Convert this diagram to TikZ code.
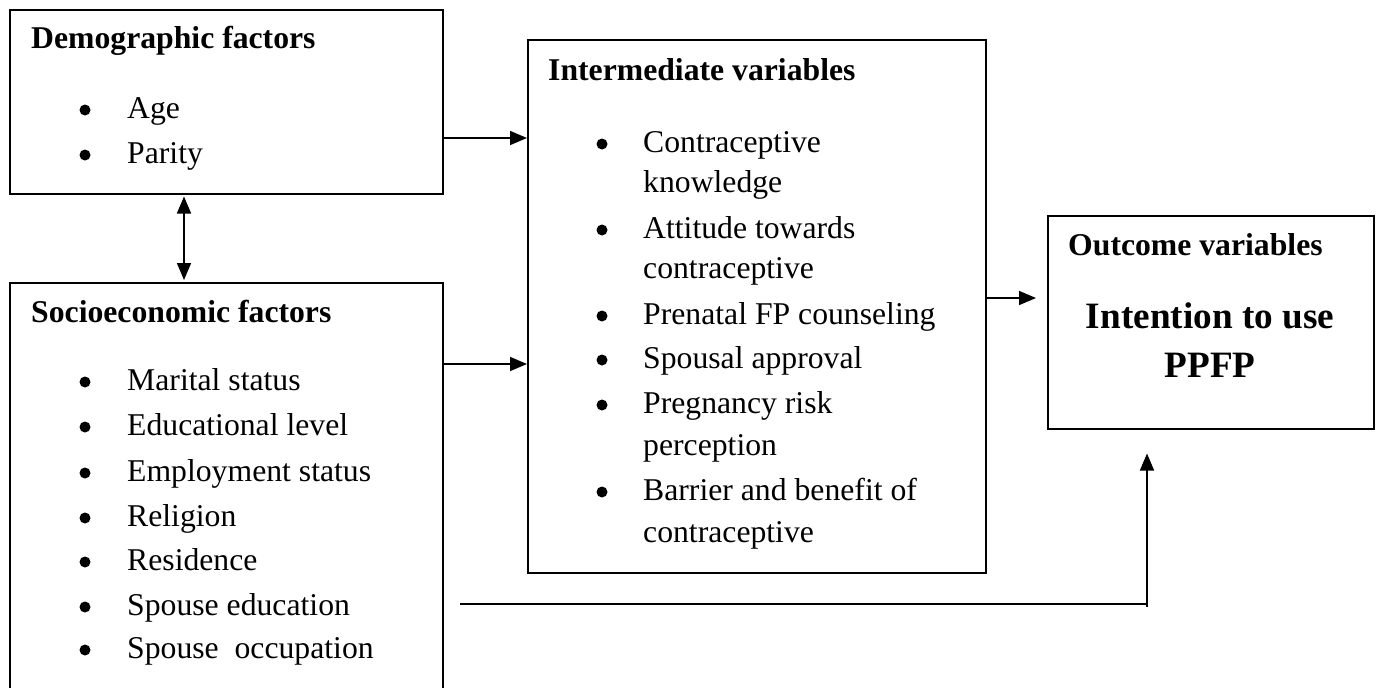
\documentclass[tikz,border=0pt]{standalone}
\usepackage{fontspec}
\setmainfont{Liberation Serif}
\usetikzlibrary{arrows.meta}
\begin{document}
\begin{tikzpicture}[x=1pt,y=-1pt,
  box/.style={draw,line width=1.5pt,rectangle,inner sep=0pt,anchor=north west},
  arr/.style={line width=1.6pt,-{Triangle[length=17pt,width=14pt]}},
  dbl/.style={line width=1.6pt,{Triangle[length=17pt,width=14pt]}-{Triangle[length=17pt,width=14pt]}},
  txt/.style={inner sep=0pt,anchor=base west,font=\fontsize{31.7}{38}\selectfont},
  ttl/.style={inner sep=0pt,anchor=base west,font=\fontsize{31.7}{38}\selectfont\bfseries},
  big/.style={inner sep=0pt,anchor=base,font=\fontsize{37.2}{44}\selectfont\bfseries},
  bul/.style={circle,fill=black,inner sep=0pt,minimum size=11pt,yshift=8pt}]
\clip (0,0) rectangle (1379,688);
\fill[white] (0,0) rectangle (1379,688);
% boxes
\node[box,minimum width=433pt,minimum height=184pt] (demo) at (9,9) {};
\node[box,minimum width=433pt,minimum height=418pt] (socio) at (9,282) {};
\node[box,minimum width=458pt,minimum height=533pt] (inter) at (527,39) {};
\node[box,minimum width=326pt,minimum height=213pt] (out) at (1047,215) {};
% demographic
\node[ttl] (t1) at (31,48) {Demographic factors};
\node[bul] (b11) at (85,118) {}; \node[txt] (i11) at (127,118) {Age};
\node[bul] (b12) at (85,163) {}; \node[txt] (i12) at (127,163) {Parity};
% socioeconomic
\node[ttl] (t2) at (31,322) {Socioeconomic factors};
\node[bul] (b21) at (85,390) {}; \node[txt] (i21) at (127,390) {Marital status};
\node[bul] (b22) at (85,435) {}; \node[txt] (i22) at (127,435) {Educational level};
\node[bul] (b23) at (85,481) {}; \node[txt] (i23) at (127,481) {Employment status};
\node[bul] (b24) at (85,526) {}; \node[txt] (i24) at (127,526) {Religion};
\node[bul] (b25) at (85,570) {}; \node[txt] (i25) at (127,570) {Residence};
\node[bul] (b26) at (85,615) {}; \node[txt] (i26) at (127,615) {Spouse education};
\node[bul] (b27) at (85,658) {}; \node[txt] (i27) at (127,658) {Spouse\ \ occupation};
% intermediate
\node[ttl] (t3) at (548,80) {Intermediate variables};
\node[bul] (b31) at (602,152) {}; \node[txt] (i31) at (643,152) {Contraceptive};
\node[txt] (i31b) at (643,192) {knowledge};
\node[bul] (b32) at (602,238) {}; \node[txt] (i32) at (643,238) {Attitude towards};
\node[txt] (i32b) at (643,278) {contraceptive};
\node[bul] (b33) at (602,324) {}; \node[txt] (i33) at (643,324) {Prenatal FP counseling};
\node[bul] (b34) at (602,368) {}; \node[txt] (i34) at (643,368) {Spousal approval};
\node[bul] (b35) at (602,413) {}; \node[txt] (i35) at (643,413) {Pregnancy risk};
\node[txt] (i35b) at (643,455) {perception};
\node[bul] (b36) at (602,500) {}; \node[txt] (i36) at (643,500) {Barrier and benefit of};
\node[txt] (i36b) at (643,542) {contraceptive};
% outcome
\node[ttl] (t4) at (1068,255) {Outcome variables};
\node[big] (o1) at (1210,328) {Intention to use};
\node[big] (o2) at (1210,377) {PPFP};
% connectors
\draw[arr] (demo.east |- 0,138) -- (inter.west |- 0,138);
\draw[arr] (socio.east |- 0,364) -- (inter.west |- 0,364);
\draw[dbl,shorten <=2pt,shorten >=2pt] (demo.south -| 184,0) -- (socio.north -| 184,0);
\draw[arr,shorten >=11pt] (inter.east |- 0,298) -- (out.west |- 0,298);
\coordinate (s) at (460,604);
\coordinate (c) at (1147,604);
\draw[line width=1.6pt] (s) -- (c) -- ++(0,3);
\draw[arr,shorten >=24pt] (c) -- (out.south -| c);
\end{tikzpicture}
\end{document}
